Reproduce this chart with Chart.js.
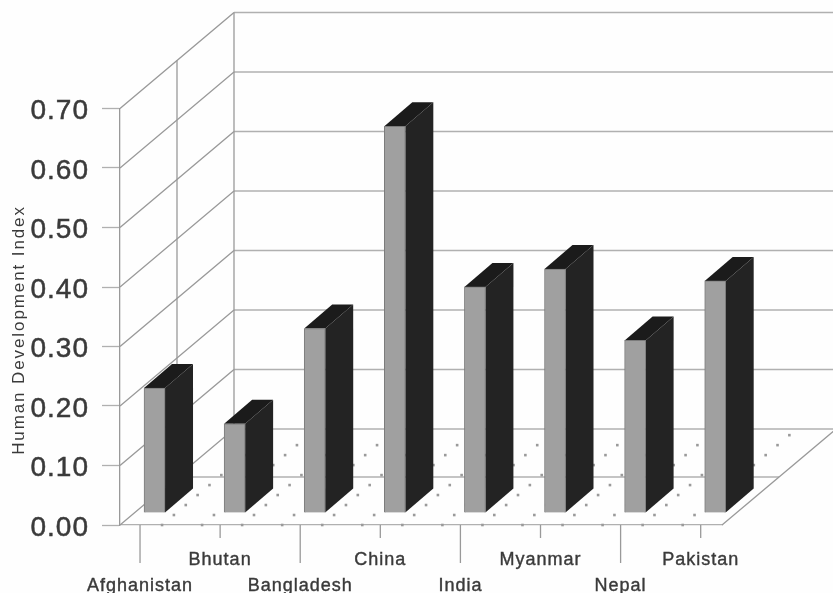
<!DOCTYPE html>
<html>
<head>
<meta charset="utf-8">
<title>Human Development Index</title>
<script src="https://cdn.jsdelivr.net/npm/chart.js@4"></script>
<style>
  html, body { margin: 0; padding: 0; background: #fefefe; }
  canvas { display: block; }
</style>
</head>
<body>
<canvas id="hdiChart" width="833" height="593"></canvas>
<script>
const categories = ['Afghanistan', 'Bhutan', 'Bangladesh', 'China', 'India', 'Myanmar', 'Nepal', 'Pakistan'];
const hdiValues = [0.21, 0.15, 0.31, 0.65, 0.38, 0.41, 0.29, 0.39];
const yTicks = [0, 0.1, 0.2, 0.3, 0.4, 0.5, 0.6, 0.7];
const axisTitle = 'Human Development Index';

// fake 3d projection, in pixels
const WALL_DX = 114, WALL_DY = -96;
const BAR_DX = 28, BAR_DY = -24;
const BAR_SHIFT_X = 14.5, BAR_SHIFT_Y = -12;
const GRID = '#b0b0b0', WALL = '#999999', DOT = '#9a9a9a', INK = '#3a3a3a';

function line(ctx, x1, y1, x2, y2, color, width) {
  ctx.strokeStyle = color;
  ctx.lineWidth = width || 1.3;
  ctx.beginPath();
  ctx.moveTo(x1, y1);
  ctx.lineTo(x2, y2);
  ctx.stroke();
}

function poly(ctx, pts, fill) {
  ctx.fillStyle = fill;
  ctx.beginPath();
  pts.forEach((p, i) => i ? ctx.lineTo(p[0], p[1]) : ctx.moveTo(p[0], p[1]));
  ctx.closePath();
  ctx.fill();
}

const room = {
  id: 'room',
  beforeDraw(chart) {
    // tick labels are set a little wide
    chart.ctx.letterSpacing = '1px';
  },
  beforeDatasetsDraw(chart) {
    const { ctx, scales: { x, y } } = chart;
    const left = x.left, right = x.right, y0 = y.getPixelForValue(0), yTop = y.getPixelForValue(0.7);
    ctx.save();
    // back wall and side wall rules
    yTicks.forEach(v => {
      const py = y.getPixelForValue(v);
      line(ctx, left + WALL_DX, py + WALL_DY, right + WALL_DX, py + WALL_DY, GRID);
      line(ctx, left, py, left + WALL_DX, py + WALL_DY, WALL);
    });
    line(ctx, left + WALL_DX, yTop + WALL_DY, left + WALL_DX, y0 + WALL_DY, WALL);
    line(ctx, left + WALL_DX / 2, yTop + WALL_DY / 2, left + WALL_DX / 2, y0 + WALL_DY / 2, WALL);
    // floor
    line(ctx, left + WALL_DX / 2, y0 + WALL_DY / 2, right + WALL_DX / 2, y0 + WALL_DY / 2, GRID);
    line(ctx, right, y0, right + WALL_DX, y0 + WALL_DY, WALL);
    // dotted depth rules, two per category
    ctx.fillStyle = DOT;
    for (let v = 0.275; x.getPixelForValue(v) < right - 20; v += 0.5) {
      const px = x.getPixelForValue(v);
      for (let k = 0; k <= 9; k++) {
        const f = k * 0.104;
        ctx.fillRect(px + WALL_DX * f - 1.3, y0 + WALL_DY * f - 1.3, 2.6, 2.6);
      }
    }
    // category ticks: long and short in turn
    categories.forEach((c, i) => {
      const px = x.getPixelForValue(i);
      line(ctx, px, y0, px, y0 + (i % 2 ? 13 : 38), WALL);
    });
    // axis title
    ctx.translate(19, 330);
    ctx.rotate(-Math.PI / 2);
    ctx.fillStyle = INK;
    ctx.font = '17px "Liberation Sans", Arial, sans-serif';
    ctx.letterSpacing = '1.9px';
    ctx.textAlign = 'center';
    ctx.textBaseline = 'middle';
    ctx.fillText(axisTitle, 0, 0);
    ctx.restore();
  },
  beforeDatasetDraw(chart, args) {
    const { ctx } = chart;
    ctx.save();
    ctx.translate(BAR_SHIFT_X, BAR_SHIFT_Y);
    // side and top faces go under the front face
    args.meta.data.forEach(bar => {
      const l = bar.x - bar.width / 2, r = bar.x + bar.width / 2;
      poly(ctx, [[r, bar.base], [r + BAR_DX, bar.base + BAR_DY], [r + BAR_DX, bar.y + BAR_DY], [r, bar.y]], '#232323');
      poly(ctx, [[l, bar.y], [l + BAR_DX, bar.y + BAR_DY], [r + BAR_DX, bar.y + BAR_DY], [r, bar.y]], '#1b1b1b');
    });
  },
  afterDatasetDraw(chart) {
    chart.ctx.restore();
  }
};

new Chart(document.getElementById('hdiChart'), {
  type: 'bar',
  data: {
    datasets: [{
      data: hdiValues.map((v, i) => ({ x: i, y: v })),
      backgroundColor: '#a0a0a0',
      borderColor: '#7c7c7c',
      borderWidth: 1,
      barThickness: 21,
      clip: false
    }]
  },
  plugins: [room],
  options: {
    responsive: false,
    animation: false,
    layout: { padding: { top: 108.5, right: 111, left: 0, bottom: 0 } },
    plugins: { legend: { display: false }, tooltip: { enabled: false } },
    scales: {
      x: {
        type: 'linear',
        offset: false,
        min: -0.25,
        max: 7.266,
        afterFit: s => { s.height = 68; },
        afterBuildTicks: s => { s.ticks = categories.map((c, i) => ({ value: i })); },
        grid: { display: false },
        border: { color: GRID, width: 1.3 },
        ticks: {
          autoSkip: false,
          maxRotation: 0,
          padding: 14,
          color: INK,
          textStrokeColor: INK,
          textStrokeWidth: 0.4,
          font: { family: '"Liberation Sans", Arial, sans-serif', size: 18, lineHeight: 1.44 },
          callback: v => (v % 2 ? [categories[v], ''] : ['', categories[v]])
        }
      },
      y: {
        min: 0,
        max: 0.7,
        afterFit: s => { s.width = 120; },
        afterBuildTicks: s => { s.ticks = yTicks.map(v => ({ value: v })); },
        grid: { drawOnChartArea: false, tickLength: 18, color: GRID, tickWidth: 1.3 },
        border: { color: WALL, width: 1.3 },
        ticks: {
          padding: 13,
          labelOffset: 3,
          color: INK,
          textStrokeColor: INK,
          textStrokeWidth: 0.5,
          font: { family: '"Liberation Sans", Arial, sans-serif', size: 28 },
          callback: v => v.toFixed(2)
        }
      }
    }
  }
});
</script>
</body>
</html>
